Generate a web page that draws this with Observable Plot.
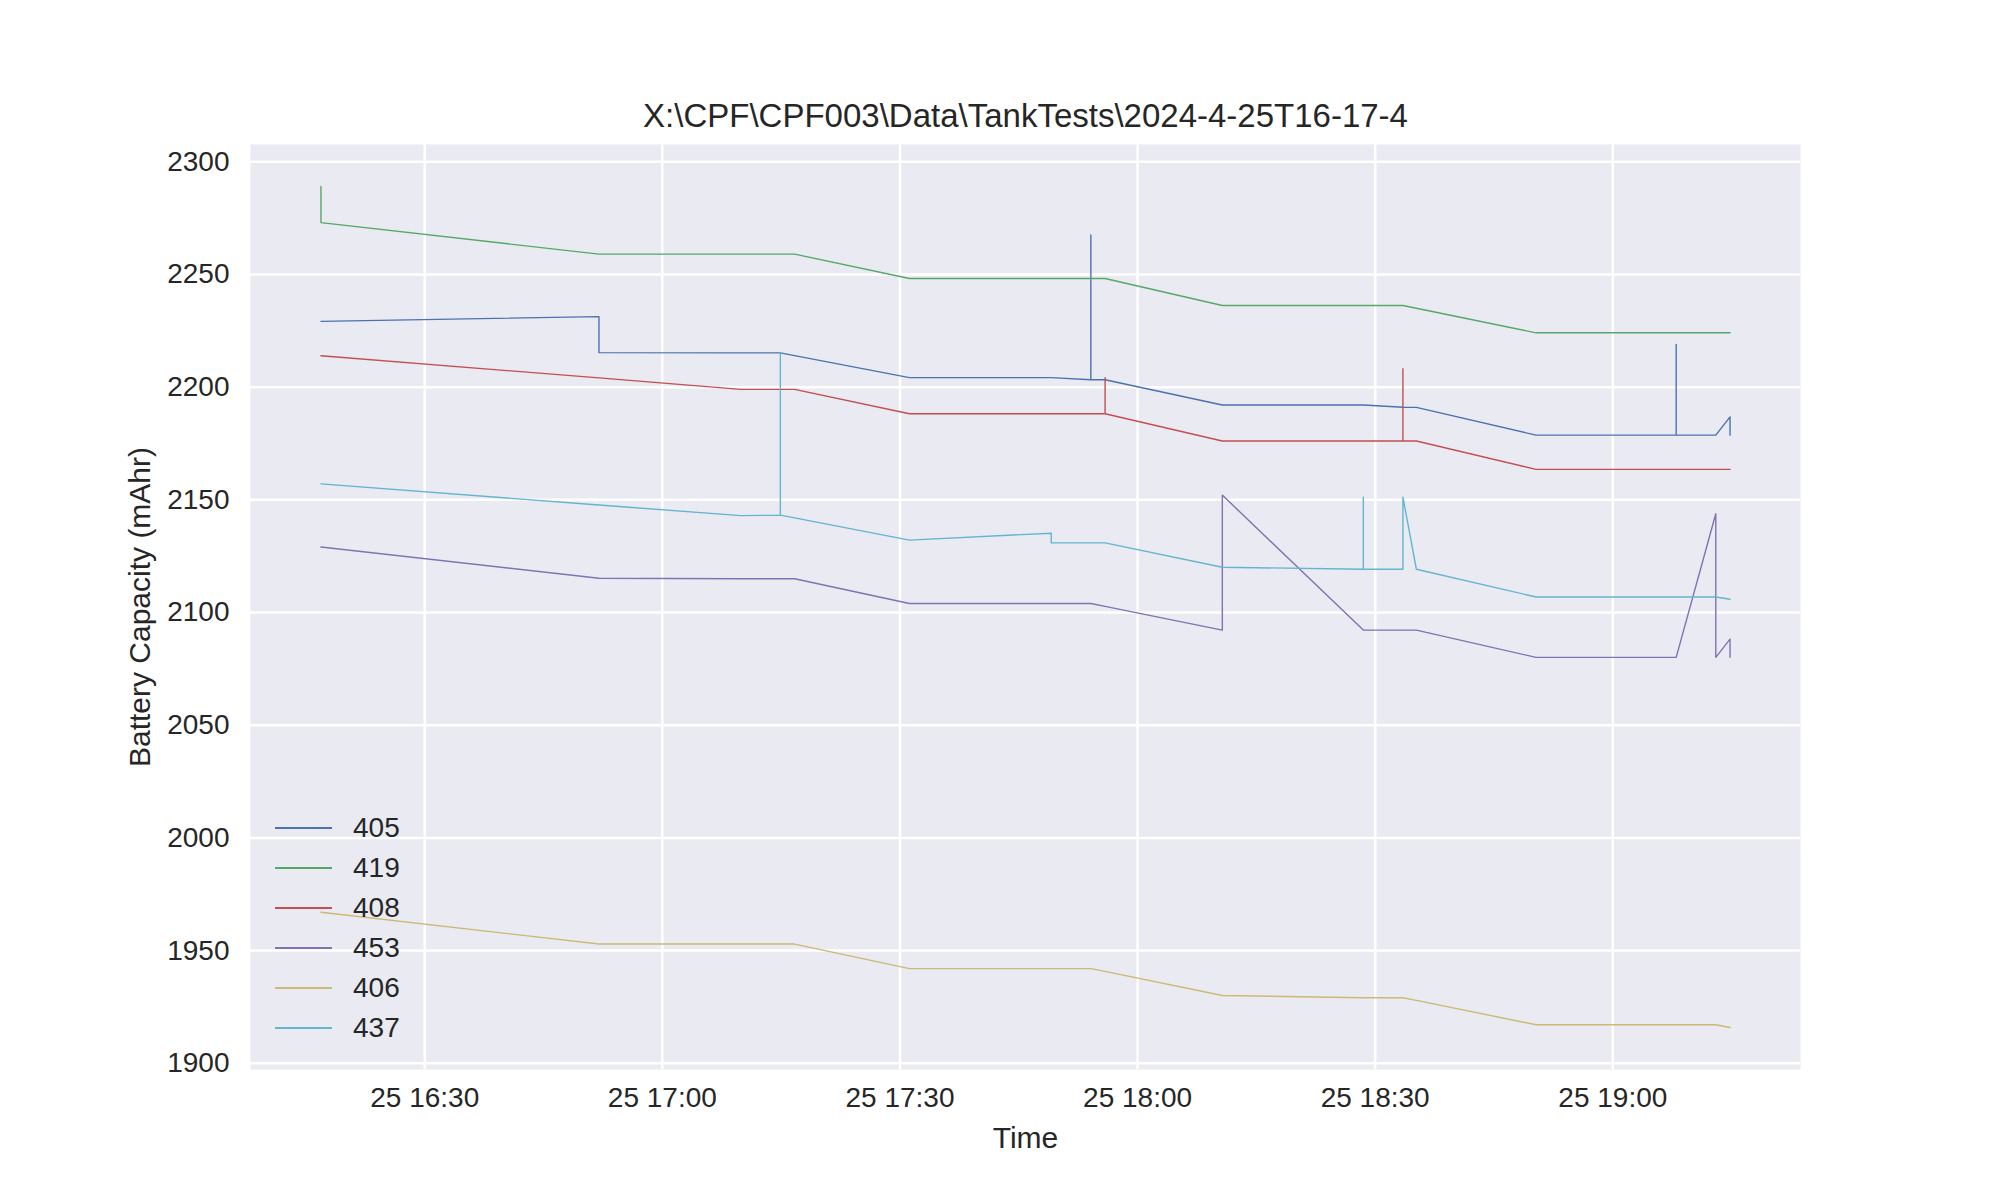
<!DOCTYPE html>
<html>
<head>
<meta charset="utf-8">
<script src="https://cdn.jsdelivr.net/npm/d3@7"></script>
<script src="https://cdn.jsdelivr.net/npm/@observablehq/plot@0.6"></script>
<style>
  html, body { margin: 0; padding: 0; background: white; }
  #wrap { position: relative; width: 2000px; height: 1200px; font-family: "Liberation Sans", Arial, sans-serif; }
  #legend { position: absolute; left: 0; top: 0; }
  .lg-row { position: absolute; display: flex; align-items: center; height: 40px; font-size: 28px; color: #262626; }
  .lg-line { display: inline-block; width: 57px; height: 1.5px; margin-right: 21px; }
</style>
</head>
<body>
<div id="wrap"><div id="legend"></div></div>
<script>
// ---- data ----
const chartTitle = "X:\\CPF\\CPF003\\Data\\TankTests\\2024-4-25T16-17-4";
const xLabel = "Time";
const yLabel = "Battery Capacity (mAhr)";
const day = "2024-04-25";

const times = ["16:16:54","16:52:00","17:09:54","17:14:54","17:16:42","17:31:12","17:49:06","17:54:06","17:55:54",
               "18:10:42","18:28:30","18:33:30","18:35:12","18:50:18","19:08:00","19:13:00","19:14:48"];

const seriesNames = ["405","419","408","453","406","437"];
const seriesColors = ["#4C72B0","#55A868","#C44E52","#8172B2","#CCB974","#64B5CD"];

// one entry per time; an inner array is a sequence of readings logged at that same time
const s405 = [2229.2,[2231.3,2215.3],2215.2,2215.2,2214.0,2204.2,2204.2,[2203.3,2267.5,2203.3],2203.3,
              2192.1,2192.1,2191.1,2191.0,2178.7,[2178.7,2218.9,2178.7],2178.7,[2186.8,2178.7]];
const s419 = [[2289.0,2273.0],2259.0,2259.0,2259.0,2259.0,2248.2,2248.2,2248.2,2248.2,
              2236.2,2236.2,2236.2,2235.0,2224.1,2224.1,2224.1,2224.1];
const s408 = [2213.9,2204.1,2199.0,2199.0,2199.0,2188.2,2188.2,2188.2,[2188.2,2204.2,2188.2],
              2176.1,2176.1,[2176.1,2208.2,2176.1],2176.1,2163.5,2163.5,2163.5,2163.5];
const s453 = [2129.1,2115.2,2115.0,2115.0,2115.0,2104.0,2104.0,2104.0,2102.7,
              [2092.2,2152.1],2092.2,2092.2,2092.2,2080.1,2080.1,[2143.8,2080.1],[2088.2,2080.1]];
const s406 = [1967.0,1952.9,1952.9,1952.9,1952.9,1942.0,1942.0,1942.0,1940.8,
              1930.1,1929.1,1929.1,1927.9,1917.1,1917.1,1917.1,1915.9];
const s437 = [2157.1,2147.7,2143.0,[2143.2,2215.2,2143.2],2142.0,2132.1,[2135.2,2130.9],2130.9,2130.9,
              2120.1,[2119.2,2151.2,2119.2],[2119.2,2151.2],2119.2,2106.9,2106.9,2106.9,2105.9];

const xTickTimes = ["16:30:00","17:00:00","17:30:00","18:00:00","18:30:00","19:00:00"];
const yTicks = [1900,1950,2000,2050,2100,2150,2200,2250,2300];

// ---- build table ----
const parse = d3.utcParse("%Y-%m-%d %H:%M:%S");
const t = times.map(s => parse(day + " " + s));
const allSeries = [s405, s419, s408, s453, s406, s437];
const rows = [];
allSeries.forEach((vals, si) => {
  vals.forEach((v, ti) => {
    (Array.isArray(v) ? v : [v]).forEach(val => rows.push({series: seriesNames[si], time: t[ti], value: val}));
  });
});

// matplotlib-like 5% margins
const tmin = d3.min(rows, d => d.time), tmax = d3.max(rows, d => d.time);
const tpad = (tmax - tmin) * 0.05;
const xDomain = [new Date(+tmin - tpad), new Date(+tmax + tpad)];
const vmin = d3.min(rows, d => d.value), vmax = d3.max(rows, d => d.value);
const vpad = (vmax - vmin) * 0.05;
const yDomain = [vmin - vpad, vmax + vpad];
const xTicks = xTickTimes.map(s => parse(day + " " + s));

const font = '"Liberation Sans", Arial, sans-serif';

const chart = Plot.plot({
  width: 2000,
  height: 1200,
  marginLeft: 250,
  marginRight: 200,
  marginTop: 144,
  marginBottom: 131,
  style: {fontFamily: font, fontSize: "28px", color: "#262626", background: "white", overflow: "visible"},
  x: {type: "utc", domain: xDomain, ticks: xTicks, tickFormat: d3.utcFormat("%d %H:%M"), tickSize: 0, tickPadding: 18, label: null},
  y: {domain: yDomain, ticks: yTicks, tickFormat: d => String(d), tickSize: 0, tickPadding: 21, label: null},
  color: {domain: seriesNames, range: seriesColors},
  marks: [
    Plot.frame({fill: "#EAEAF2", stroke: null}),
    Plot.gridX(xTicks, {stroke: "white", strokeOpacity: 1, strokeWidth: 2.5}),
    Plot.gridY(yTicks, {stroke: "white", strokeOpacity: 1, strokeWidth: 2.5}),
    Plot.line(rows, {x: "time", y: "value", z: "series", stroke: "series", strokeWidth: 1.4, curve: "linear"}),
    Plot.text([chartTitle], {text: d => d, frameAnchor: "top", dy: -28, fontSize: 33, lineAnchor: "middle", textAnchor: "middle", fill: "#262626"}),
    Plot.text([xLabel], {text: d => d, frameAnchor: "bottom", dy: 69, fontSize: 30, lineAnchor: "middle", textAnchor: "middle", fill: "#262626"}),
    Plot.text([yLabel], {text: d => d, frameAnchor: "left", dx: -110, rotate: -90, fontSize: 30, lineAnchor: "middle", textAnchor: "middle", fill: "#262626"})
  ]
});
document.getElementById("wrap").prepend(chart);

// ---- legend (inside the axes, lower left) ----
const legend = document.getElementById("legend");
seriesNames.forEach((name, i) => {
  const row = document.createElement("div");
  row.className = "lg-row";
  row.style.left = "275px";
  row.style.top = (808 + 40 * i) + "px";
  const line = document.createElement("span");
  line.className = "lg-line";
  line.style.background = seriesColors[i];
  const label = document.createElement("span");
  label.textContent = name;
  row.appendChild(line);
  row.appendChild(label);
  legend.appendChild(row);
});
</script>
</body>
</html>
